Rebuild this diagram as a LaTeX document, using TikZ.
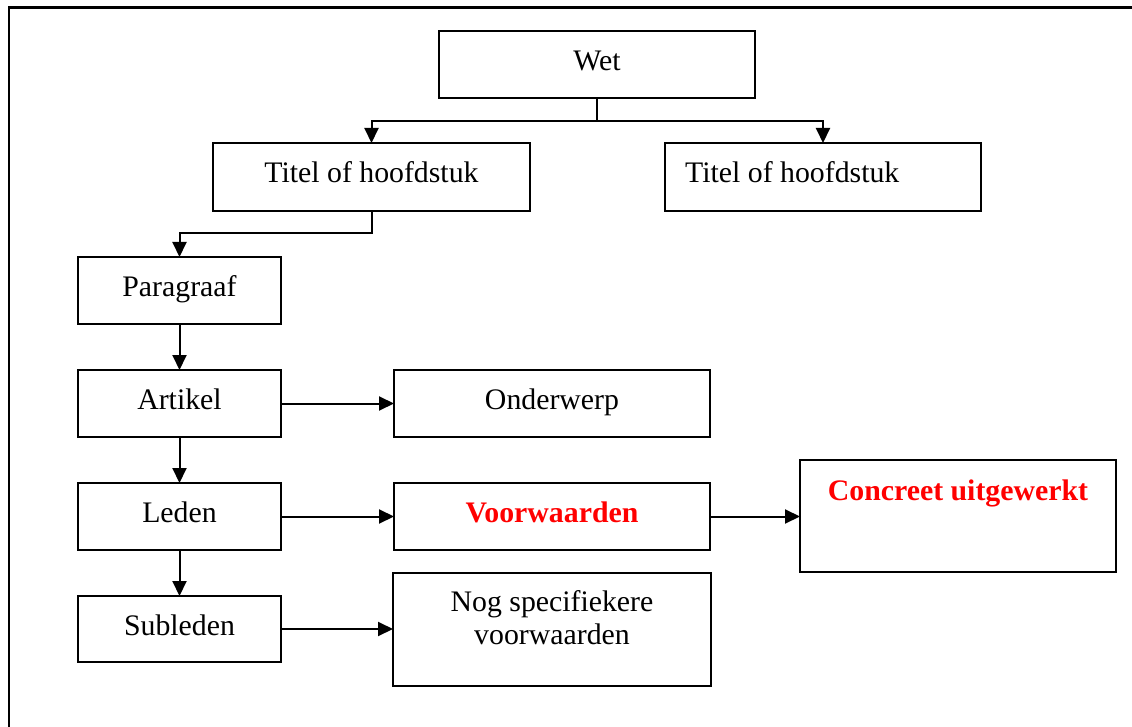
\documentclass[tikz,border=0pt]{standalone}
\usepackage{fontspec}
\setmainfont{Liberation Serif}
\usetikzlibrary{arrows.meta,calc}
\definecolor{hot}{RGB}{255,0,0}
\begin{document}
\begin{tikzpicture}[x=1pt,y=-1pt,
  box/.style={draw,line width=2pt,rectangle,inner sep=0pt,outer sep=0pt},
  wide/.style={box,minimum width=316pt,minimum height=67pt},
  narrow/.style={box,minimum width=203pt,minimum height=67pt},
  lbl/.style={anchor=base,inner sep=0pt,font=\fontsize{29.8pt}{33pt}\selectfont},
  key/.style={lbl,text=hot,font=\fontsize{29.8pt}{33pt}\selectfont\bfseries},
  arr/.style={line width=2pt,-{Triangle[length=15pt,width=14pt]}}]
\useasboundingbox (0,0) rectangle (1132,727);
\clip (0,0) rectangle (1132,727);
% page frame (right and bottom sides lie outside the page)
\draw[line width=2.5pt] (9,760) -- (9,7.5) -- (1160,7.5);

% boxes
\node[wide]   (wet) at (597,64.5) {};
\node[wide,minimum width=317pt,minimum height=68pt] (t1) at (371.5,177) {};
\node[wide,minimum height=68pt] (t2) at (823,177) {};
\node[narrow] (par) at (179.5,290.5) {};
\node[narrow] (art) at (179.5,403.5) {};
\node[narrow] (led) at (179.5,516.5) {};
\node[narrow,minimum height=66pt] (sub) at (179.5,629) {};
\node[wide]   (ond) at (552,403.5) {};
\node[wide]   (voo) at (552,516.5) {};
\node[wide,minimum width=318pt,minimum height=113pt] (nog) at (552,629.5) {};
\node[wide,minimum height=112pt] (con) at (958,516) {};

% texts
\node[lbl] at ($(wet.north)+(0,39.5)$) {Wet};
\node[lbl] at ($(t1.north)+(0,40)$) {Titel of hoofdstuk};
\node[lbl,anchor=base west] at ($(t2.north west)+(20,40)$) {Titel of hoofdstuk};
\node[lbl] at ($(par.north)+(0,39)$) {Paragraaf};
\node[lbl] at ($(art.north)+(0,39.5)$) {Artikel};
\node[lbl] at ($(led.north)+(0,39.5)$) {Leden};
\node[lbl] at ($(sub.north)+(0,39.5)$) {Subleden};
\node[lbl] at ($(ond.north)+(0,39.5)$) {Onderwerp};
\node[key] at ($(voo.north)+(0,39.5)$) {Voorwaarden};
\node[key] at ($(con.north)+(0,40)$) {Concreet uitgewerkt};
\node[lbl] at ($(nog.north)+(0,38.5)$) {Nog specifiekere};
\node[lbl] at ($(nog.north)+(0,71.5)$) {voorwaarden};

% connectors
\draw[arr] (wet.south) -- ++(0,23) -| (t1.north);
\draw[arr] (wet.south) -- ++(0,23) -| (t2.north);
\draw[arr] (t1.south) -- ++(0,22) -| (par.north);
\draw[arr] (par.south) -- (art.north);
\draw[arr] (art.south) -- (led.north);
\draw[arr] (led.south) -- (sub.north);
\draw[arr] (art.east) -- (ond.west);
\draw[arr] (led.east) -- (voo.west);
\draw[arr] (voo.east) -- (voo.east -| con.west);
\draw[arr] (sub.east) -- (sub.east -| nog.west);
\end{tikzpicture}
\end{document}
